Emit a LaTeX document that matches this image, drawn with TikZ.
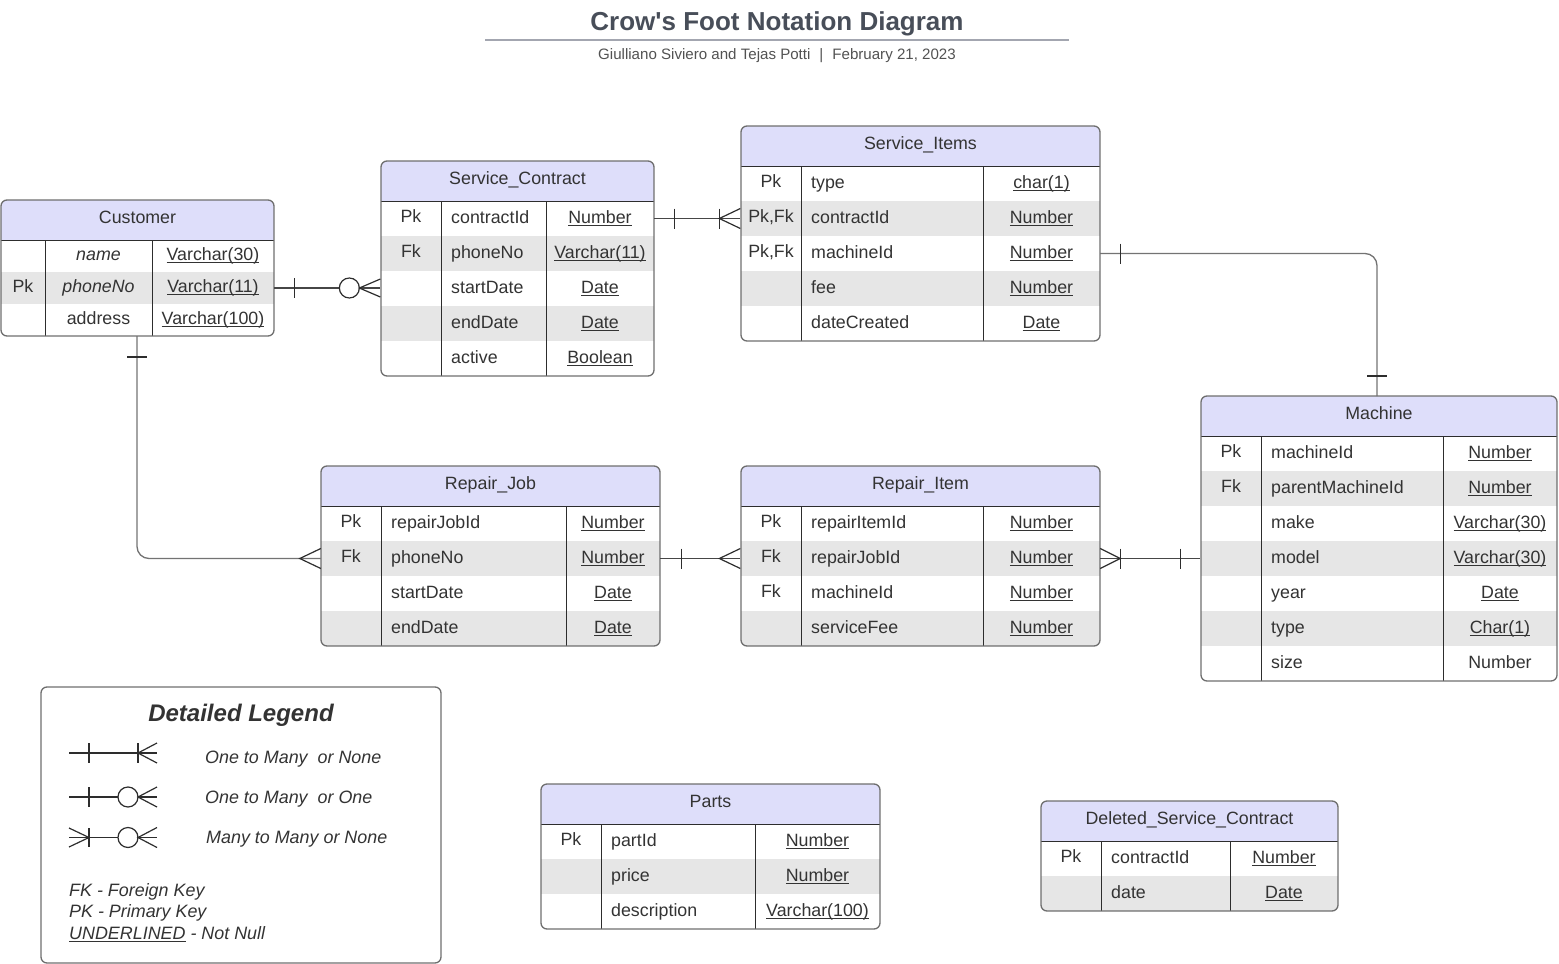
\documentclass[tikz,border=0pt]{standalone}
\usepackage{fontspec}
\setmainfont{Liberation Sans}
\usetikzlibrary{calc,fit}
\definecolor{hdrc}{RGB}{222,222,250}
\definecolor{rowc}{RGB}{230,230,230}
\definecolor{borderc}{RGB}{110,110,110}
\definecolor{innerc}{RGB}{45,45,45}
\definecolor{textc}{RGB}{51,51,51}
\definecolor{titlec}{RGB}{72,78,89}
\definecolor{rulec}{RGB}{163,166,176}
\definecolor{connc}{RGB}{70,70,70}
\definecolor{conn2c}{RGB}{115,115,115}
\newsavebox{\ulbox}
\newcommand{\ulx}[1]{\sbox{\ulbox}{#1}\rlap{\rule[-2.6pt]{\wd\ulbox}{1.1pt}}\usebox{\ulbox}}
\def\fieldc{0}
\tikzset{
  txt/.style={font=\fontsize{17.8}{20}\selectfont, text=textc, inner sep=0pt},
  innerline/.style={draw=innerc, line width=1pt},
  tblborder/.style={draw=borderc, line width=1.3pt, rounded corners=6pt, inner sep=0pt},
  conn/.style={draw=connc, line width=1.2pt},
  conn2/.style={draw=conn2c, line width=1.3pt, rounded corners=12pt},
  mk/.style={draw=innerc, line width=1.2pt},
  legtxt/.style={font=\fontsize{17.9}{20}\selectfont\itshape, text=textc, inner sep=0pt, anchor=base west},
}
% #1 id, #2 title, #3 x0, #4 y0, #5 xa, #6 xb, #7 x1, #8 row height, #9 rows
\newcommand{\ertab}[9]{%
  \foreach \rr [count=\ii] in {#9} {\xdef\nrows{\ii}}%
  \pgfmathsetmacro{\ybot}{#4+40+\nrows*#8}%
  \begin{scope}
    \clip[rounded corners=6pt] (#3,#4) rectangle (#7,\ybot);
    \fill[hdrc] (#3,#4) rectangle (#7,#4+40);
    \foreach \rK/\rF/\rT/\rS/\rU [count=\ii] in {#9} {
      \ifnum\rS=1 \fill[rowc] (#3,{#4+40+(\ii-1)*#8}) rectangle (#7,{#4+40+\ii*#8}); \fi
    }
  \end{scope}
  \foreach \rK/\rF/\rT/\rS/\rU [count=\ii] in {#9} {
    \pgfmathsetmacro{\yc}{#4+40+(\ii-1)*#8+#8/2}
    \node[fit={(#3,\yc-#8/2) (#7,\yc+#8/2)}, inner sep=0pt] (#1-r\ii) {};
    \node[txt, anchor=base] (#1-k\ii) at ({(#3+#5)/2}, \yc+4) {\rK};
    \ifnum\fieldc=1
      \node[txt, anchor=base] (#1-f\ii) at ({(#5+#6)/2}, \yc+4) {\rF};
    \else
      \node[txt, anchor=base west] (#1-f\ii) at (#5+10, \yc+5) {\rF};
    \fi
    \node[txt, anchor=base] (#1-t\ii) at ({(#6+#7)/2}, \yc+4.5) {\ifnum\rU=1 \ulx{\rT}\else\rT\fi};
  }
  \draw[innerline] (#3,#4+40) -- (#7,#4+40);
  \draw[innerline] (#5,#4+40) -- (#5,\ybot);
  \draw[innerline] (#6,#4+40) -- (#6,\ybot);
  \node[fit={(#3,#4) (#7,\ybot)}, tblborder] (#1) {};
  \node[txt, anchor=base] (#1-title) at ({(#3+#7)/2}, #4+23.5) {#2};
}
\begin{document}
\begin{tikzpicture}[x=1pt,y=-1pt]
\useasboundingbox (0,0) rectangle (1559,964);

% title
\node[font=\fontsize{26}{30}\selectfont\bfseries, text=titlec, inner sep=0pt, anchor=base] (title) at (777,30) {Crow\textquotesingle s Foot Notation Diagram};
\draw[rulec, line width=2pt] (485,40) -- (1069,40);
\node[font=\fontsize{15.1}{18}\selectfont, text=textc!85, inner sep=0pt, anchor=base] (subtitle) at (777,59.5) {Giulliano Siviero and Tejas Potti\hspace{9pt}|\hspace{9pt}February 21, 2023};

% tables
\def\fieldc{1}
\ertab{cust}{Customer}{1}{200}{45}{152}{274}{32}{/\textit{name}/Varchar(30)/0/1, Pk/\textit{phoneNo}/Varchar(11)/1/1, /address/Varchar(100)/0/1}
\def\fieldc{0}
\ertab{sc}{Service\_Contract}{381}{161}{441}{546}{654}{35}{Pk/contractId/Number/0/1, Fk/phoneNo/Varchar(11)/1/1, /startDate/Date/0/1, /endDate/Date/1/1, /active/Boolean/0/1}
\ertab{si}{Service\_Items}{741}{126}{801}{983}{1100}{35}{Pk/type/char(1)/0/1, {Pk,Fk}/contractId/Number/1/1, {Pk,Fk}/machineId/Number/0/1, /fee/Number/1/1, /dateCreated/Date/0/1}
\ertab{m}{Machine}{1201}{396}{1261}{1443}{1557}{35}{Pk/machineId/Number/0/1, Fk/parentMachineId/Number/1/1, /make/Varchar(30)/0/1, /model/Varchar(30)/1/1, /year/Date/0/1, /type/Char(1)/1/1, /size/Number/0/0}
\ertab{rj}{Repair\_Job}{321}{466}{381}{566}{660}{35}{Pk/repairJobId/Number/0/1, Fk/phoneNo/Number/1/1, /startDate/Date/0/1, /endDate/Date/1/1}
\ertab{ri}{Repair\_Item}{741}{466}{801}{983}{1100}{35}{Pk/repairItemId/Number/0/1, Fk/repairJobId/Number/1/1, Fk/machineId/Number/0/1, /serviceFee/Number/1/1}
\ertab{parts}{Parts}{541}{784}{601}{755}{880}{35}{Pk/partId/Number/0/1, /price/Number/1/1, /description/Varchar(100)/0/1}
\ertab{dsc}{Deleted\_Service\_Contract}{1041}{801}{1101}{1230}{1338}{35}{Pk/contractId/Number/0/1, /date/Date/1/1}

% connector 1: Customer -- Service_Contract
\coordinate (c1e) at (cust-r2.east -| sc.west);
\draw[conn] (cust-r2.east) -- (c1e);
\draw[mk] ($(cust-r2.east)+(20,-10)$) -- ++(0,20);
\draw[mk, fill=white] ($(c1e)+(-31,0)$) circle[radius=10];
\draw[mk] ($(c1e)+(0,-9)$) -- ($(c1e)+(-21,0)$) -- ($(c1e)+(0,9)$);

% connector 2: Service_Contract -- Service_Items
\coordinate (c2e) at (sc-r1.east -| si.west);
\draw[conn] (sc-r1.east) -- (c2e);
\draw[mk] ($(sc-r1.east)+(20,-10)$) -- ++(0,20);
\draw[mk] ($(c2e)+(-21,-10)$) -- ++(0,20);
\draw[mk] ($(c2e)+(0,-10)$) -- ($(c2e)+(-21,0)$) -- ($(c2e)+(0,10)$);

% connector 3: Service_Items -- Machine
\coordinate (c3e) at (1377,396);
\draw[conn2] (si-r3.east) -| (c3e);
\draw[mk] ($(si-r3.east)+(20,-10)$) -- ++(0,20);
\draw[mk] ($(c3e)+(-10,-20)$) -- ++(20,0);

% connector 4: Customer -- Repair_Job
\coordinate (c4s) at (137,336);
\draw[conn2] (c4s) |- (rj-r2.west);
\draw[mk] ($(c4s)+(-10,21)$) -- ++(20,0);
\draw[mk] ($(rj-r2.west)+(0,-10)$) -- ($(rj-r2.west)+(-21,0)$) -- ($(rj-r2.west)+(0,10)$);

% connector 5: Repair_Job -- Repair_Item
\coordinate (c5e) at (rj-r2.east -| ri.west);
\draw[conn] (rj-r2.east) -- (c5e);
\draw[mk] ($(rj-r2.east)+(21,-10)$) -- ++(0,20);
\draw[mk] ($(c5e)+(0,-10)$) -- ($(c5e)+(-21,0)$) -- ($(c5e)+(0,10)$);

% connector 6: Repair_Item -- Machine
\coordinate (c6e) at (ri-r2.east -| m.west);
\draw[conn] (ri-r2.east) -- (c6e);
\draw[mk] ($(ri-r2.east)+(0,-10)$) -- ($(ri-r2.east)+(20,0)$) -- ($(ri-r2.east)+(0,10)$);
\draw[mk] ($(ri-r2.east)+(20,-10)$) -- ++(0,20);
\draw[mk] ($(c6e)+(-20,-10)$) -- ++(0,20);

% legend
\node[fit={(41,687) (441,963)}, tblborder] (legend) {};
\node[font=\fontsize{24}{28}\selectfont\bfseries\itshape, text=textc, inner sep=0pt, anchor=base] (legtitle) at (241,721) {Detailed Legend};
% symbol 1
\draw[mk] (69,753) -- (157,753);
\draw[mk] (89,743) -- (89,763);
\draw[mk] (138,743) -- (138,763);
\draw[mk] (157,743) -- (138,753) -- (157,763);
% symbol 2
\draw[mk] (69,797) -- (157,797);
\draw[mk] (89,787) -- (89,807);
\draw[mk, fill=white] (128,797) circle[radius=10];
\draw[mk] (157,787) -- (138,797) -- (157,807);
% symbol 3
\draw[mk] (69,837.5) -- (157,837.5);
\draw[mk] (69,828) -- (89,837.5) -- (69,847);
\draw[mk] (89,828) -- (89,847);
\draw[mk, fill=white] (128,837.5) circle[radius=10];
\draw[mk] (157,827.5) -- (138,837.5) -- (157,847.5);
\node[legtxt] (leg1) at (205,763.5) {One to Many\ \ or None};
\node[legtxt] (leg2) at (205,803) {One to Many\ \ or One};
\node[legtxt] (leg3) at (206,843) {Many to Many or None};
\node[legtxt] (leg4) at (69,896) {FK - Foreign Key};
\node[legtxt] (leg5) at (69,917) {PK - Primary Key};
\node[legtxt] (leg6) at (69,939) {\ulx{UNDERLINED} - Not Null};
\end{tikzpicture}
\end{document}
